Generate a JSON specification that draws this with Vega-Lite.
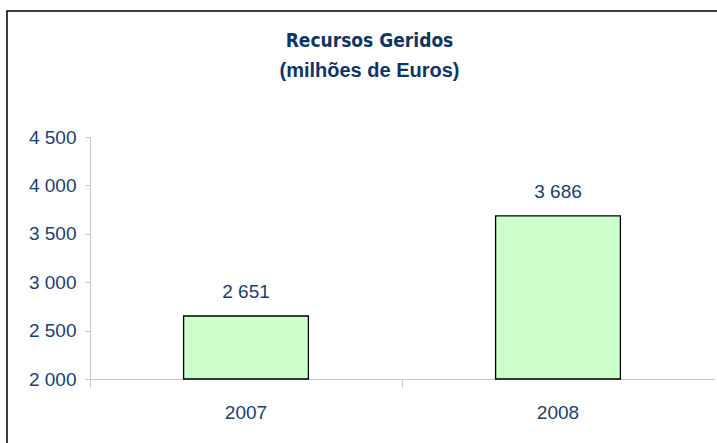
{
  "$schema": "https://vega.github.io/schema/vega-lite/v6.json",
  "width": 715,
  "height": 437,
  "autosize": {"type": "none"},
  "padding": {"left": 7, "top": 11, "right": -5, "bottom": -5},
  "background": "white",
  "config": {
    "view": {"stroke": "black", "strokeWidth": 1.5},
    "locale": {"number": {"decimal": ",", "thousands": " ", "grouping": [3], "currency": ["", " €"]}}
  },
  "title": {
    "text": "Recursos Geridos",
    "subtitle": "(milhões de Euros)",
    "anchor": "middle",
    "frame": "group",
    "orient": "top",
    "offset": -70,
    "dx": 5,
    "font": "DejaVu Sans Condensed, Roboto Condensed, Roboto, sans-serif",
    "fontSize": 19,
    "fontWeight": "bold",
    "color": "#0f3563",
    "subtitleFont": "Liberation Sans",
    "subtitleFontSize": 20,
    "subtitleFontWeight": "bold",
    "subtitleColor": "#0f3563",
    "subtitlePadding": 10
  },
  "data": {"values": [
    {"ano": "2007", "valor": 2651},
    {"ano": "2008", "valor": 3686}
  ]},
  "encoding": {
    "x": {
      "field": "ano",
      "type": "nominal",
      "scale": {"range": [83, 707], "paddingInner": 0, "paddingOuter": 0},
      "axis": {
        "title": null,
        "orient": "bottom",
        "offset": -69,
        "labelAngle": 0,
        "bandPosition": 0,
        "domainColor": "#c8c8c8",
        "tickColor": "#c8c8c8",
        "tickSize": 8,
        "labelPadding": 16,
        "labelFont": "Liberation Sans",
        "labelFontSize": 19,
        "labelColor": "#1b3f6e",
        "grid": false
      }
    }
  },
  "layer": [
    {
      "mark": {"type": "bar", "fill": "#ccffcc", "stroke": "black", "strokeWidth": 1.3, "width": {"band": 0.4}},
      "encoding": {
        "y": {
          "field": "valor",
          "type": "quantitative",
          "scale": {"domain": [2000, 4500], "range": [368, 126], "nice": false, "zero": false},
          "axis": {
            "title": null,
            "orient": "left",
            "offset": -83,
            "values": [2000, 2500, 3000, 3500, 4000, 4500],
            "format": ",d",
            "domainColor": "#c8c8c8",
            "tickColor": "#c8c8c8",
            "tickSize": 5,
            "labelPadding": 9,
            "labelFont": "Liberation Sans",
            "labelFontSize": 19,
            "labelColor": "#1b3f6e",
            "grid": false
          }
        },
        "y2": {"datum": 2000}
      }
    },
    {
      "mark": {"type": "text", "align": "center", "baseline": "alphabetic", "dy": -18, "font": "Liberation Sans", "fontSize": 19, "color": "#1b3f6e"},
      "encoding": {
        "y": {"field": "valor", "type": "quantitative"},
        "text": {"field": "valor", "type": "quantitative", "format": ",d"}
      }
    }
  ]
}
